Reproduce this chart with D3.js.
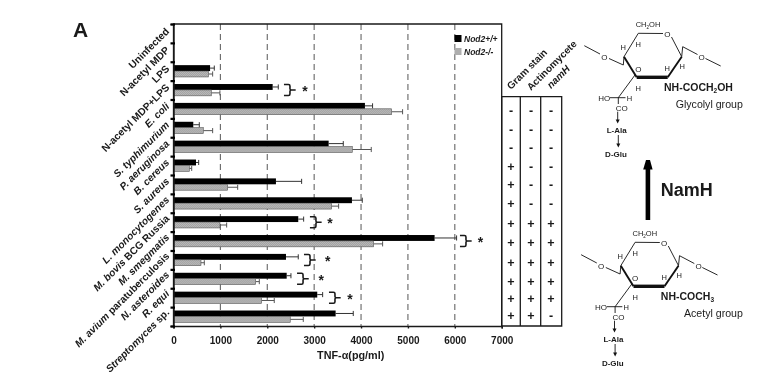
<!DOCTYPE html>
<html>
<head>
<meta charset="utf-8">
<script src="https://cdn.jsdelivr.net/npm/d3@7"></script>
<style>
  html, body { margin: 0; padding: 0; background: #fff; }
  svg { display: block; will-change: opacity; }
  text { font-family: "Liberation Sans", Arial, sans-serif; fill: #1a1a1a; }
</style>
</head>
<body>
<svg id="chart" width="776" height="378"></svg>
<script>
const categories = ["Uninfected", "N-acetyl MDP", "LPS", "N-acetyl MDP+LPS", "E. coli", "S. typhimurium",
  "P. aeruginosa", "B. cereus", "S. aureus", "L. monocytogenes", "M. bovis BCG Russia", "M. smegmatis",
  "M. avium paratuberculosis", "N. asteroides", "R. equi", "Streptomyces sp."];
// part of each label that is set in italics
const italicParts = ["", "", "", "", "E. coli", "S. typhimurium", "P. aeruginosa", "B. cereus", "S. aureus",
  "L. monocytogenes", "M. bovis", "M. smegmatis", "M. avium", "N. asteroides", "R. equi", "Streptomyces"];

const wildType = [null, null, 780, 2115, 4083, 422, 3309, 480, 2185, 3806, 2661, 5569, 2399, 2414, 3066, 3458];
const wildTypeTop = [null, null, 870, 2235, 4246, 550, 3621, 537, 2733, 4026, 2776, 6038, 2661, 2505, 3181, 3834];
const knockout = [null, null, 745, 806, 4652, 635, 3813, 337, 1156, 3373, 991, 4268, 586, 1753, 1880, 2490];
const knockoutTop = [null, null, 835, 990, 4886, 835, 4218, 388, 1369, 3522, 1134, 4460, 657, 1830, 2149, 2768];

// significance brackets: category index, value where the bracket starts, value of the star
const sigIndex = [3, 10, 11, 12, 13, 14];
const sigValue = [2356, 2910, 6110, 2783, 2635, 3316];
const sigStar = [2805, 3340, 6550, 3290, 3150, 3765];

const xTicks = [0, 1000, 2000, 3000, 4000, 5000, 6000, 7000];
const tableColumns = ["Gram stain", "Actinomycete", "namH"];
const gramStain = ["-", "-", "-", "+", "+", "+", "+", "+", "+", "+", "+", "+"];
const actinomycete = ["-", "-", "-", "-", "-", "-", "+", "+", "+", "+", "+", "+"];
const namH = ["-", "-", "-", "-", "-", "-", "+", "+", "+", "+", "+", "-"];

const svg = d3.select("#chart");
const ink = "#1a1a1a";

const defs = svg.append("defs");
const hatch = defs.append("pattern").attr("id", "hatch")
  .attr("width", 2).attr("height", 2).attr("patternUnits", "userSpaceOnUse");
hatch.append("rect").attr("width", 2).attr("height", 2).attr("fill", "#b9b9b9");
hatch.append("rect").attr("width", 1).attr("height", 1).attr("fill", "#a2a2a2");
hatch.append("rect").attr("x", 1).attr("y", 1).attr("width", 1).attr("height", 1).attr("fill", "#a2a2a2");

const x = d3.scaleLinear().domain([0, 7000]).range([173.5, 501.7]);
const yEdge = d3.scaleLinear().domain([0, categories.length]).range([24, 326]);
const y = d3.scaleBand().domain(d3.range(categories.length)).range([24, 326]);
const ySeries = d3.scaleBand().domain(["wt", "ko"]).range([3.4, 15.2]);
const yLabel = d3.scaleLinear().domain([0, categories.length - 1]).range([32, 313]);

// dashed grid
svg.append("g").selectAll("line")
  .data(xTicks.slice(1, -1))
  .join("line")
  .attr("x1", d => x(d)).attr("x2", d => x(d))
  .attr("y1", y.range()[0]).attr("y2", y.range()[1])
  .attr("stroke", "#666").attr("stroke-width", 1.1).attr("stroke-dasharray", "6,4");

// bars
const series = [
  { key: "wt", values: wildType, tops: wildTypeTop, fill: "#000", stroke: "none", err: "#333" },
  { key: "ko", values: knockout, tops: knockoutTop, fill: "url(#hatch)", stroke: "#555", err: "#555" }
];
series.forEach(s => {
  const rows = categories.map((c, i) => ({ i, v: s.values[i], top: s.tops[i] })).filter(d => d.v !== null);
  const gs = svg.append("g").selectAll("g").data(rows).join("g")
    .attr("transform", d => `translate(0,${y(d.i) + ySeries(s.key)})`);
  const h = ySeries.bandwidth();
  gs.append("line")
    .attr("x1", d => x(d.v)).attr("x2", d => x(d.top))
    .attr("y1", h / 2).attr("y2", h / 2)
    .attr("stroke", s.err).attr("stroke-width", 1);
  gs.append("line")
    .attr("x1", d => x(d.top)).attr("x2", d => x(d.top))
    .attr("y1", 0.4).attr("y2", h - 0.4)
    .attr("stroke", s.err).attr("stroke-width", 1);
  gs.append("rect")
    .attr("x", x(0)).attr("y", 0)
    .attr("width", d => x(d.v) - x(0)).attr("height", h)
    .attr("fill", s.fill).attr("stroke", s.stroke).attr("stroke-width", 0.6);
});

// frame + axes
svg.append("path")
  .attr("d", `M${x(0)},${y.range()[1]}V${y.range()[0]}H${x(7000)}V${y.range()[1]}`)
  .attr("fill", "none").attr("stroke", ink).attr("stroke-width", 1.3);

const xAxis = svg.append("g").attr("transform", `translate(0,${y.range()[1]})`)
  .call(d3.axisBottom(x).tickValues(xTicks).tickFormat(d3.format("d")).tickSize(2.5).tickPadding(8.5));
xAxis.selectAll(".domain, .tick line").attr("stroke", ink).attr("stroke-width", 1.4);
xAxis.selectAll("text").attr("font-size", 10).attr("font-weight", "bold").attr("fill", ink)
  .style("font-family", '"Liberation Sans", Arial, sans-serif');

const yAxis = svg.append("g").attr("transform", `translate(${x(0)},0)`)
  .call(d3.axisLeft(yEdge).tickValues(d3.range(categories.length + 1)).tickFormat("").tickSize(3));
yAxis.selectAll(".domain").attr("stroke", ink).attr("stroke-width", 1.4);
yAxis.selectAll(".tick line").attr("stroke", "#000").attr("stroke-width", 2.2).attr("x2", -3).attr("x1", 1.5);

// rotated category labels
const labels = svg.append("g").selectAll("text").data(categories).join("text")
  .attr("text-anchor", "end")
  .attr("font-size", 10.2).attr("font-weight", "bold")
  .attr("transform", (d, i) => `translate(170,${yLabel(i)}) rotate(-45)`);
labels.each(function (d, i) {
  const t = d3.select(this);
  const it = italicParts[i];
  if (it) t.append("tspan").attr("font-style", "italic").text(it);
  t.append("tspan").text(d.slice(it.length));
});

svg.append("text").attr("x", x(3800) - 1).attr("y", 359).attr("text-anchor", "middle")
  .attr("font-size", 10.8).attr("font-weight", "bold").text("TNF-α(pg/ml)");

svg.append("text").attr("x", 73).attr("y", 37).attr("font-size", 21).attr("font-weight", "bold").text("A");

// legend
const legendItems = [["Nod2+/+", "#000"], ["Nod2-/-", "url(#hatch)"]];
const legend = svg.append("g").selectAll("g").data(legendItems).join("g")
  .attr("transform", (d, i) => `translate(454.5,${35 + i * 13})`);
legend.append("rect").attr("width", 7).attr("height", 7).attr("fill", d => d[1]);
legend.append("text").attr("x", 9.5).attr("y", 6.8).attr("font-size", 8.5)
  .attr("font-weight", "bold").attr("font-style", "italic").text(d => d[0]);

// significance brackets
const sig = svg.append("g").selectAll("g").data(sigIndex).join("g")
  .attr("transform", (d, i) => `translate(${x(sigValue[i])},${y(d) + y.bandwidth() / 2})`);
sig.append("path")
  .attr("d", "M0,-5.5H4.5Q6,-5.5 6,-4V-1.2Q6,0 7.3,0H11.7M7.3,0Q6,0 6,1.2V4Q6,5.5 4.5,5.5H0")
  .attr("fill", "none").attr("stroke", ink).attr("stroke-width", 1.6);
sig.append("text").attr("x", (d, i) => x(sigStar[i]) - x(sigValue[i])).attr("y", 6)
  .attr("font-size", 14).attr("font-weight", "bold")
  .attr("text-anchor", "middle").text("*");

// table on the right
const tableEdges = [x(7000), 520.3, 540.7, 561.7];
const tableTop = 96.7;
svg.append("path")
  .attr("d", `M${tableEdges[0]},${tableTop}H${tableEdges[3]}V${y.range()[1]}H${tableEdges[0]}`)
  .attr("fill", "none").attr("stroke", ink).attr("stroke-width", 1.3);
svg.append("g").selectAll("line").data(tableEdges.slice(0, 3)).join("line")
  .attr("x1", d => d).attr("x2", d => d).attr("y1", tableTop).attr("y2", y.range()[1])
  .attr("stroke", ink).attr("stroke-width", 1.3);

const rowY = d3.scaleLinear().domain([0, 4, 9, 11]).range([111, 185, 282, 316]);
const tableCols = [gramStain, actinomycete, namH];
const colX = [511, 531, 551];
tableCols.forEach((col, j) => {
  svg.append("g").selectAll("text").data(col).join("text")
    .attr("x", colX[j]).attr("y", (d, i) => rowY(i) + 4)
    .attr("text-anchor", "middle").attr("font-size", 12.5).attr("font-weight", "bold")
    .text(d => d);
});
svg.append("g").selectAll("text").data(tableColumns).join("text")
  .attr("text-anchor", "start").attr("font-size", 10).attr("font-weight", "bold")
  .attr("font-style", d => d === "namH" ? "italic" : "normal")
  .attr("transform", (d, i) => `translate(${[511, 531, 551][i]},${[90, 91, 89][i]}) rotate(-45)`)
  .text(d => d);

// sugar structure, drawn once per group
function sugar(dx, dy, tail, groupName, groupX) {
  const g = svg.append("g").attr("transform", `translate(${dx},${dy})`);
  const line = (pts, w) => g.append("path")
    .attr("d", d3.line()(pts)).attr("fill", "none").attr("stroke", "#111").attr("stroke-width", w);
  line([[624, 56.7], [638.3, 33.3], [663, 33.5]], 0.9);
  line([[671.5, 37], [681.7, 56.7]], 0.9);
  line([[681.7, 56.7], [667.7, 77.3]], 1.9);
  line([[667.7, 77.3], [636.7, 77.3]], 3.4);
  line([[636.7, 77.3], [624, 56.7]], 1.9);
  line([[681.7, 56.7], [682.7, 46.7], [697.5, 54.5]], 0.9);
  line([[705.5, 58.5], [720.7, 66]], 0.9);
  line([[624, 56.7], [623.3, 65], [609, 58.5]], 0.9);
  line([[600, 54], [584.3, 45.7]], 0.9);
  line([[635, 75], [618.3, 97.7], [618.3, 104]], 0.9);
  line([[610, 97.7], [625.5, 97.7]], 0.9);
  line([[617.7, 111.7], [617.7, 121]], 0.9);
  line([[618.3, 135], [618.3, 145]], 0.9);
  [[617.7, 123.5], [618.3, 147.5]].forEach(p => g.append("path")
    .attr("d", `M${p[0] - 2},${p[1] - 4}L${p[0] + 2},${p[1] - 4}L${p[0]},${p[1]}Z`).attr("fill", "#111"));

  const label = (tx, ty, s, size, weight) => g.append("text").attr("x", tx).attr("y", ty)
    .attr("text-anchor", "middle").attr("font-size", size || 7.5).attr("font-weight", weight || "normal").text(s);
  label(667.3, 37, "O", 8);
  label(701.7, 59.5, "O", 8);
  label(604.3, 59.5, "O", 8);
  label(638.3, 72, "O", 8);
  label(638.3, 47, "H");
  label(623.3, 49.5, "H");
  label(682.3, 69, "H");
  label(667.3, 71, "H");
  label(638.3, 91, "H");
  label(629.5, 101, "H");
  label(604.3, 101, "HO", 8);
  label(621.7, 110.5, "CO", 8);
  label(616.7, 133, "L-Ala", 8, "bold");
  label(616, 157, "D-Glu", 8, "bold");
  const ch2 = g.append("text").attr("x", 648).attr("y", 27).attr("text-anchor", "middle").attr("font-size", 7.5);
  ch2.append("tspan").text("CH");
  ch2.append("tspan").attr("font-size", 4.5).attr("dy", 1.5).text("2");
  ch2.append("tspan").attr("dy", -1.5).text("OH");
  const nh = g.append("text").attr("x", 664).attr("y", 91).attr("font-size", 10.5).attr("font-weight", "bold");
  nh.append("tspan").text(tail[0]);
  nh.append("tspan").attr("font-size", 6.5).attr("dy", 2).text(tail[1]);
  nh.append("tspan").attr("dy", -2).text(tail[2]);
  g.append("text").attr("x", groupX).attr("y", 107.7).attr("font-size", 10.6).text(groupName);
}
sugar(0, 0, ["NH-COCH", "2", "OH"], "Glycolyl group", 675.7);
sugar(-3.2, 209, ["NH-COCH", "3", ""], "Acetyl group", 687.2);

// conversion arrow
svg.append("rect").attr("x", 645.6).attr("y", 166).attr("width", 4.6).attr("height", 54).attr("fill", "#000");
svg.append("path").attr("d", "M643.2,169.5L646,160H650L652.6,169.5Z").attr("fill", "#000");
svg.append("text").attr("x", 660.7).attr("y", 196).attr("font-size", 18).attr("font-weight", "bold").text("NamH");
</script>
</body>
</html>
